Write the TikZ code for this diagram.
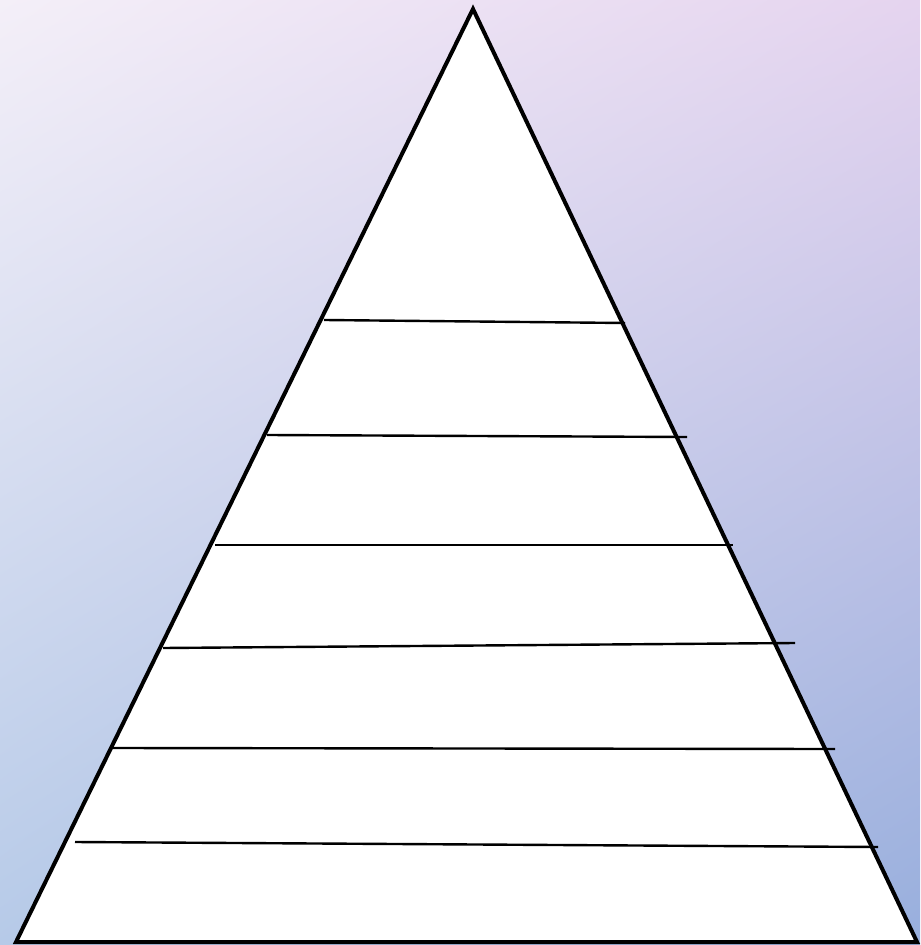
\documentclass[tikz,border=0pt]{standalone}
\usepackage{tikz}
\usetikzlibrary{shadings}

\definecolor{bgtl}{HTML}{F4EFF8}
\definecolor{bgtr}{HTML}{E5D4EF}
\definecolor{bgbl}{HTML}{B6CAE8}
\definecolor{bgbr}{HTML}{98AFDD}

\begin{document}
\begin{tikzpicture}[
    x=0.5pt, y=-0.5pt,
    outline/.style={draw=black, line width=2pt, line join=miter, fill=white},
    level/.style={draw=black, line width=1.2pt}
]

% Background
\shade[upper left=bgtl, upper right=bgtr, lower left=bgbl, lower right=bgbr]
    (0,0) rectangle (920,945);
\useasboundingbox (0,0) rectangle (920,945);

% Pyramid
\coordinate (apex) at (473,9);
\coordinate (bl) at (16,942);
\coordinate (br) at (917,942);
\draw[outline] (apex) -- (br) -- (bl) -- cycle;

% Level lines
\coordinate (l1a) at (324,320);  \coordinate (l1b) at (625,323);
\coordinate (l2a) at (267,435);  \coordinate (l2b) at (687,437);
\coordinate (l3a) at (215,545);  \coordinate (l3b) at (733,545);
\coordinate (l4a) at (163,648);  \coordinate (l4b) at (795,643);
\coordinate (l5a) at (113,748);  \coordinate (l5b) at (835,749);
\coordinate (l6a) at (75,842);   \coordinate (l6b) at (878,847);

\foreach \i in {1,...,6}
    \draw[level] (l\i a) -- (l\i b);

\end{tikzpicture}
\end{document}
